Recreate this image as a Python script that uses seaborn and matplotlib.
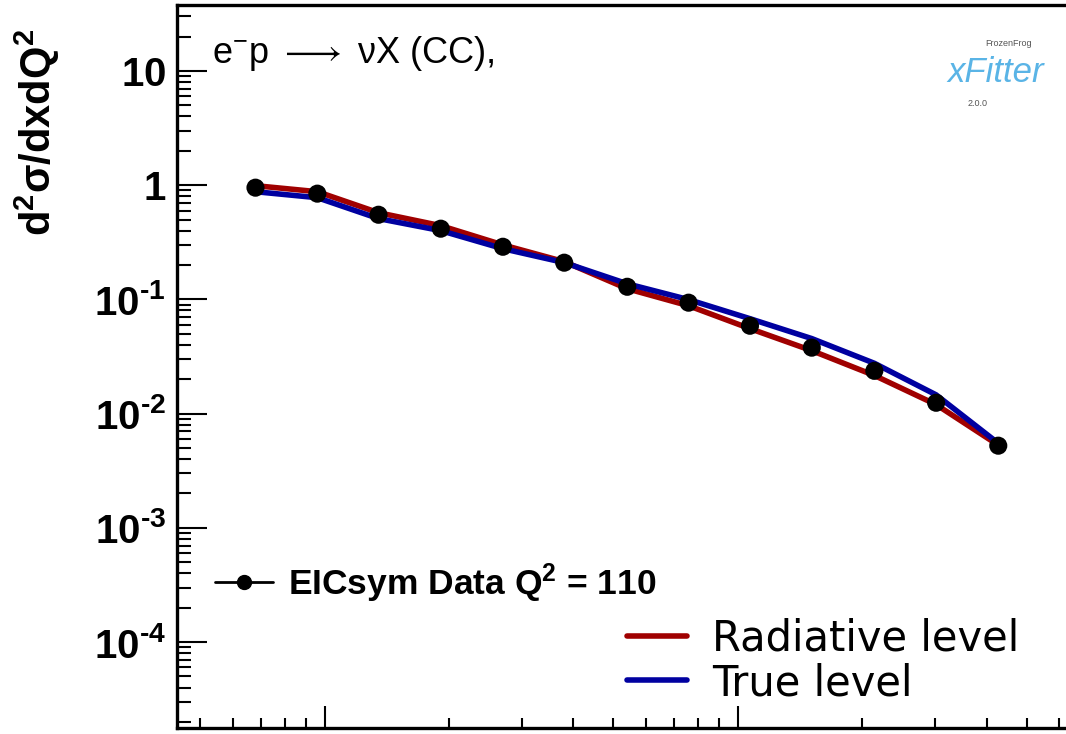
import numpy as np
import pandas as pd
import seaborn as sns
import matplotlib.pyplot as plt
from matplotlib.lines import Line2D
from matplotlib.ticker import LogLocator, FixedLocator, FuncFormatter, NullFormatter

# values
x_vals = [0.0068, 0.0096, 0.0135, 0.0191, 0.027, 0.038, 0.054, 0.076, 0.107, 0.151, 0.214, 0.302, 0.427]
data_vals = [0.951, 0.843, 0.551, 0.416, 0.289, 0.2096, 0.129, 0.0936, 0.0588, 0.0378, 0.0237, 0.01245, 0.00524]
radiative_vals = [0.99, 0.877, 0.574, 0.442, 0.30, 0.214, 0.124, 0.088, 0.0555, 0.0356, 0.0216, 0.0120, 0.0053]
true_vals = [0.877, 0.777, 0.51, 0.40, 0.278, 0.21, 0.137, 0.0996, 0.0678, 0.0454, 0.0276, 0.0146, 0.0055]
y_ticks = [10, 1, 0.1, 0.01, 0.001, 0.0001]

df = pd.DataFrame({"x": x_vals, "data": data_vals,
                   "radiative": radiative_vals, "true": true_vals})

sns.set_style("ticks")
plt.rcParams['font.family'] = ['Liberation Sans', 'DejaVu Sans']
plt.rcParams['text.color'] = 'black'
plt.rcParams['axes.labelcolor'] = 'black'
plt.rcParams['xtick.color'] = 'black'
plt.rcParams['ytick.color'] = 'black'
plt.rcParams['mathtext.fontset'] = 'custom'
plt.rcParams['mathtext.rm'] = 'Liberation Sans'
plt.rcParams['mathtext.bf'] = 'Liberation Sans:bold'
plt.rcParams['mathtext.it'] = 'Liberation Sans:italic'

red = '#a00000'
blue = '#0000a0'

fig = plt.figure(figsize=(10.66, 7.34), dpi=100)
ax = fig.add_axes([0.166, 0.0082, 0.9137, 0.985])

sns.lineplot(data=df, x="x", y="radiative", color=red, lw=4, ax=ax, zorder=2)
sns.lineplot(data=df, x="x", y="true", color=blue, lw=4, ax=ax, zorder=3)
sns.scatterplot(data=df, x="x", y="data", color="black", s=170, edgecolor="none", ax=ax, zorder=5)

ax.set_xscale('log')
ax.set_yscale('log')
ax.set_xlim(0.00439, 1.0)
ax.set_ylim(1.77e-5, 37.8)
ax.set_xlabel('')
ax.set_ylabel('')

ax.yaxis.set_major_locator(FixedLocator(y_ticks))
ax.yaxis.set_minor_locator(LogLocator(base=10, subs=np.arange(2, 10), numticks=200))
ax.xaxis.set_major_locator(LogLocator(base=10, numticks=20))
ax.xaxis.set_minor_locator(LogLocator(base=10, subs=np.arange(2, 10), numticks=200))


def ylab(v, pos):
    e = int(round(np.log10(v)))
    if e == 1:
        return r'$\mathbf{10}$'
    if e == 0:
        return r'$\mathbf{1}$'
    return '$\\mathbf{10^{\u2010%d}}$' % (-e)


ax.yaxis.set_major_formatter(FuncFormatter(ylab))
ax.yaxis.set_minor_formatter(NullFormatter())
ax.xaxis.set_major_formatter(NullFormatter())
ax.xaxis.set_minor_formatter(NullFormatter())

ax.tick_params(axis='y', which='major', direction='in', length=21.6, width=1.5,
               labelsize=29, pad=8)
ax.tick_params(axis='y', which='minor', direction='in', length=10, width=1.5)
ax.tick_params(axis='x', which='major', direction='in', length=16, width=1.5)
ax.tick_params(axis='x', which='minor', direction='in', length=7, width=1.5)
for s in ax.spines.values():
    s.set_linewidth(2.4)
    s.set_color('black')

fig.text(37 / 1066, (734 - 132) / 734, r'd$^{\mathbf{2}}$σ/dxdQ$^{\mathbf{2}}$',
         rotation=90, ha='center', va='center', fontsize=30, fontweight='bold')

fig.text(212 / 1066, (734 - 63) / 734, r'e$^{-}$p $\longrightarrow$ νX (CC),',
         ha='left', va='baseline', fontsize=26)

# xFitter logo text
fig.text(996 / 1066, (734 - 72) / 734, 'xFitter', ha='center', va='center',
         fontsize=25, style='italic', color='#5ab4e6')
fig.text(1009 / 1066, (734 - 43) / 734, 'FrozenFrog', ha='center', va='center',
         fontsize=6.5, color='#555555')
fig.text(978 / 1066, (734 - 104) / 734, '2.0.0', ha='center', va='center',
         fontsize=6.5, color='#555555')

h_data = Line2D([], [], color='black', marker='o', markersize=10, lw=2)
leg1 = ax.legend([h_data], [r'EICsym Data Q$^{\mathbf{2}}$ = 110'], loc='center left',
                 bbox_to_anchor=(215 / 1066, (734 - 583) / 734), bbox_transform=fig.transFigure,
                 frameon=False, prop={'weight': 'bold', 'size': 25.5},
                 handlelength=1.65, handletextpad=0.4, borderpad=0, borderaxespad=0,
                 labelcolor='black')
ax.add_artist(leg1)

h_red = Line2D([], [], color=red, lw=4)
h_blue = Line2D([], [], color=blue, lw=4)
ax.legend([h_red, h_blue], ['Radiative level', 'True level'], loc='center left',
          bbox_to_anchor=(627 / 1066, (734 - 661) / 734), bbox_transform=fig.transFigure,
          frameon=False, prop={'family': 'DejaVu Sans', 'size': 30},
          handlelength=1.45, handletextpad=0.6, labelspacing=0.05,
          borderpad=0, borderaxespad=0, labelcolor='black')

fig.savefig('out.png', dpi=100)
